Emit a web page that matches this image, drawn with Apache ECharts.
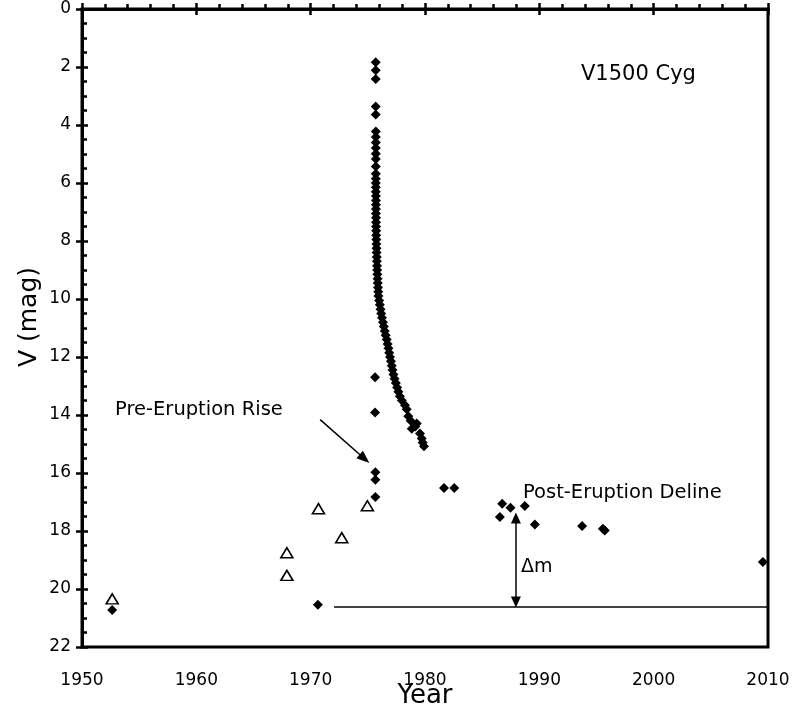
<!DOCTYPE html>
<html>
<head>
<meta charset="utf-8">
<title>V1500 Cyg</title>
<script src="https://cdn.jsdelivr.net/npm/echarts@6/dist/echarts.min.js"></script>
<style>
html, body { margin: 0; padding: 0; background: #fff; }
#chart { width: 795px; height: 710px; }
</style>
</head>
<body>
<div id="chart"></div>
<script>
// pre-eruption plate measurements (open triangles)
var preYears = [1952.64, 1967.92, 1967.92, 1970.68, 1972.72, 1974.96];
var preMags  = [20.34, 18.75, 19.53, 17.23, 18.23, 17.13];

// V-band light curve (filled diamonds)
var obsYears = [
    1952.64, 1970.63, 1975.63, 1975.63, 1975.66, 1975.66, 1975.66,
    1975.69, 1975.69, 1975.69, 1975.69, 1975.69, 1975.70, 1975.70, 1975.70, 1975.70, 1975.70, 1975.70, 1975.70, 1975.70,
    1975.70, 1975.70, 1975.70, 1975.70, 1975.71, 1975.71, 1975.71, 1975.71, 1975.71, 1975.72, 1975.72, 1975.72,
    1975.73, 1975.73, 1975.74, 1975.75, 1975.76, 1975.77, 1975.78, 1975.79, 1975.80, 1975.82, 1975.83, 1975.85,
    1975.87, 1975.89, 1975.91, 1975.93, 1975.99, 1976.05, 1976.11, 1976.17, 1976.24, 1976.32, 1976.40, 1976.48,
    1976.56, 1976.65, 1976.73, 1976.80, 1976.87, 1976.94, 1977.02, 1977.09, 1977.16, 1977.24, 1977.34, 1977.45,
    1977.56, 1977.67, 1977.80, 1977.98, 1978.25, 1978.40, 1978.54, 1978.75, 1978.84, 1979.15, 1979.28, 1979.56,
    1979.71, 1979.80, 1979.91,
    1981.66, 1982.56, 1986.55, 1986.75, 1987.48, 1988.73, 1989.61, 1993.74, 1995.56, 1995.72, 2009.55
];
var obsMags = [
    20.72, 20.54, 12.70, 13.91, 15.97, 16.23, 16.83,
    1.84, 2.11, 2.41, 3.36, 3.64, 4.22, 4.41, 4.60, 4.79, 4.99, 5.17, 5.43, 5.68,
    5.85, 6.00, 6.15, 6.30, 6.45, 6.60, 6.75, 6.90, 7.05, 7.20, 7.35, 7.50,
    7.65, 7.80, 7.95, 8.10, 8.25, 8.40, 8.55, 8.70, 8.85, 9.00, 9.15, 9.30,
    9.45, 9.60, 9.75, 9.90, 10.05, 10.20, 10.35, 10.50, 10.65, 10.80, 10.95, 11.10,
    11.25, 11.40, 11.55, 11.70, 11.85, 12.00, 12.15, 12.30, 12.45, 12.60, 12.75, 12.90,
    13.05, 13.20, 13.35, 13.50, 13.66, 13.80, 14.04, 14.20, 14.47, 14.40, 14.29, 14.64,
    14.81, 14.95, 15.08,
    16.52, 16.52, 17.52, 17.06, 17.20, 17.14, 17.78, 17.83, 17.92, 17.98, 19.07
];

// quiescent level and Delta m marker
var baseMag = 20.6;
var baseStart = 1972.05;
var dmYear = 1987.95;
var dmTop = 17.55;
var dmBottom = 20.45;
// pre-eruption arrow (start -> head)
var riseFrom = [1970.83, 14.16];
var riseTo = [1974.71, 15.51];

var xTicks = [1950, 1960, 1970, 1980, 1990, 2000, 2010];

function pairs(xs, ys) {
    return xs.map(function (x, i) { return [x, ys[i]]; });
}

var font = 'DejaVu Sans';
var chart = echarts.init(document.getElementById('chart'));

var option = {
    animation: false,
    backgroundColor: '#fff',
    grid: {left: 82, right: 27, top: 9, bottom: 63, outerBoundsMode: 'none', containLabel: false,
        show: true, borderColor: '#000', borderWidth: 3},
    xAxis: [{
        type: 'value', position: 'bottom',
        min: xTicks[0], max: xTicks[xTicks.length - 1], interval: 10,
        name: 'Year', nameLocation: 'middle', nameGap: 36, nameMoveOverlap: false,
        nameTextStyle: {color: '#000', fontFamily: font, fontSize: 26, verticalAlign: 'top'},
        axisLine: {show: true, lineStyle: {color: '#000', width: 3}},
        axisTick: {show: true, inside: true, length: 6, lineStyle: {color: '#000', width: 2.5}},
        minorTick: {show: true, splitNumber: 5, length: 5, lineStyle: {color: '#000', width: 2.5}},
        axisLabel: {color: '#000', fontFamily: font, fontSize: 17, margin: 25,
            formatter: function (v) { return String(v); }},
        splitLine: {show: false}
    }, {
        type: 'value', position: 'bottom',
        min: xTicks[0], max: xTicks[xTicks.length - 1], interval: 10,
        axisLine: {show: false},
        axisTick: {show: true, inside: false, length: 6, lineStyle: {color: '#000', width: 2.5}},
        axisLabel: {show: false},
        splitLine: {show: false}
    }],
    yAxis: [{
        type: 'value', inverse: true, min: 0, max: 22, interval: 2,
        axisLine: {show: true, lineStyle: {color: '#000', width: 3}},
        axisTick: {show: true, inside: true, length: 6, lineStyle: {color: '#000', width: 2.5}},
        minorTick: {show: true, splitNumber: 4, length: 5, lineStyle: {color: '#000', width: 2.5}},
        axisLabel: {color: '#000', fontFamily: font, fontSize: 17, margin: 11},
        splitLine: {show: false}
    }, {
        type: 'value', inverse: true, min: 0, max: 22, interval: 2, position: 'left',
        axisLine: {show: false},
        axisTick: {show: true, inside: false, length: 6, lineStyle: {color: '#000', width: 2.5}},
        axisLabel: {show: false},
        splitLine: {show: false}
    }],
    graphic: [
        {type: 'text', x: 581, y: 75, style: {text: 'V1500 Cyg', fill: '#000', font: '21px "DejaVu Sans"', verticalAlign: 'middle'}},
        {type: 'text', x: 115, y: 410, style: {text: 'Pre-Eruption Rise', fill: '#000', font: '19.5px "DejaVu Sans"', verticalAlign: 'middle'}},
        {type: 'text', x: 523, y: 493, style: {text: 'Post-Eruption Deline', fill: '#000', font: '19.5px "DejaVu Sans"', verticalAlign: 'middle'}},
        {type: 'text', x: 521, y: 567, style: {text: 'Δm', fill: '#000', font: '19px "DejaVu Sans"', verticalAlign: 'middle'}},
        {type: 'text', x: 29, y: 317, rotation: Math.PI / 2,
            style: {text: 'V (mag)', fill: '#000', font: '25px "DejaVu Sans"', align: 'center', verticalAlign: 'middle'}}
    ],
    series: [{
        name: 'V', type: 'scatter',
        symbol: 'diamond', symbolSize: [10, 10],
        itemStyle: {color: '#000', opacity: 1},
        data: pairs(obsYears, obsMags),
        markLine: {
            silent: true, animation: false, symbol: 'none',
            label: {show: false},
            lineStyle: {color: '#000', width: 1.5, type: 'solid', opacity: 1},
            data: [
                [{coord: [baseStart, baseMag], symbol: 'none'}, {coord: [xTicks[xTicks.length - 1], baseMag], symbol: 'none'}],
                [{coord: [dmYear, dmTop], symbol: 'triangle', symbolSize: [10, 11]},
                 {coord: [dmYear, dmBottom], symbol: 'triangle', symbolSize: [10, 11]}],
                [{coord: riseFrom, symbol: 'none'}, {coord: riseTo, symbol: 'triangle', symbolSize: [10, 13]}]
            ]
        }
    }, {
        name: 'pre', type: 'scatter',
        symbol: 'triangle', symbolSize: [12, 10],
        itemStyle: {color: '#fff', borderColor: '#000', borderWidth: 1.6, opacity: 1},
        data: pairs(preYears, preMags)
    }]
};

chart.setOption(option);
</script>
</body>
</html>
